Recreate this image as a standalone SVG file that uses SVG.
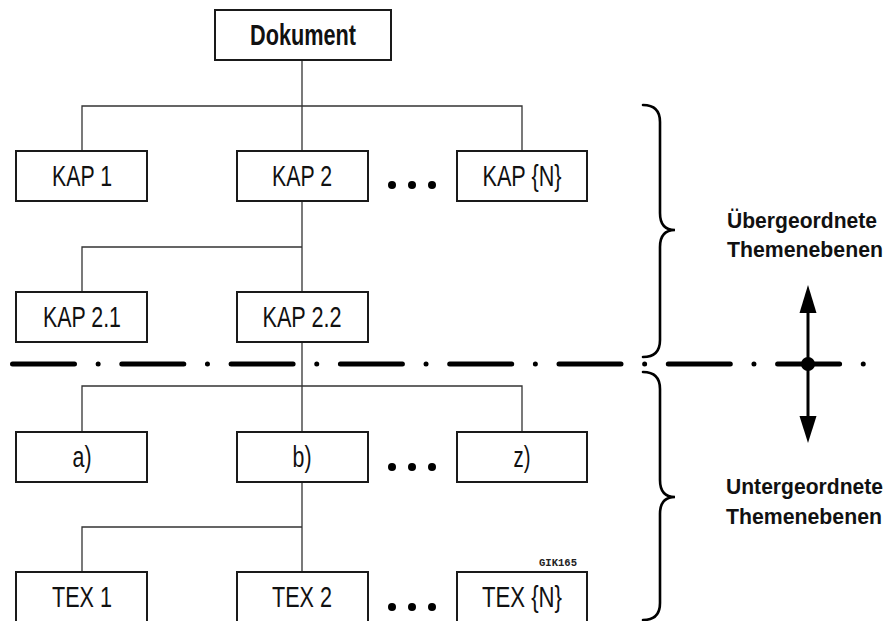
<svg xmlns="http://www.w3.org/2000/svg" width="893" height="621" viewBox="0 0 893 621">
<style>
.box{fill:#fff;stroke:#1a1a1a;stroke-width:2}
.t{font-family:"Liberation Sans Narrow","Liberation Sans",Arial,sans-serif;font-size:29px;fill:#111;text-anchor:middle}
.b{font-weight:bold}
.lab{font-family:"Liberation Sans",Arial,sans-serif;font-size:21.5px;font-weight:bold;fill:#111}
.con{fill:none;stroke:#333;stroke-width:1.3}
.dot{fill:#000}
.brace{fill:none;stroke:#000;stroke-width:2.6;stroke-linecap:round}
</style>
<rect width="893" height="621" fill="#fff"/>
<g id="connectors">
<path class="con" d="M302,60V151M82,151V106H522V151M302,201V292M82,292V247H302M302,342V432M82,432V386H522V432M302,482V572M82,572V527H302"/>
</g>
<g id="dokument"><rect class="box" x="215" y="10" width="176" height="50"/><text class="t b" x="303" y="44.5" font-size="27" textLength="106" lengthAdjust="spacingAndGlyphs">Dokument</text></g>
<g id="kap1"><rect class="box" x="16" y="151" width="131" height="50"/><text class="t" x="82" y="186" textLength="60" lengthAdjust="spacingAndGlyphs">KAP 1</text></g>
<g id="kap2"><rect class="box" x="237" y="151" width="131" height="50"/><text class="t" x="302" y="186" textLength="60" lengthAdjust="spacingAndGlyphs">KAP 2</text></g>
<g id="kapN"><rect class="box" x="457" y="151" width="130" height="50"/><text class="t" x="522" y="186" textLength="79" lengthAdjust="spacingAndGlyphs">KAP {N}</text></g>
<g id="kap21"><rect class="box" x="16" y="292" width="131" height="50"/><text class="t" x="82" y="327" textLength="78" lengthAdjust="spacingAndGlyphs">KAP 2.1</text></g>
<g id="kap22"><rect class="box" x="237" y="292" width="131" height="50"/><text class="t" x="302" y="327" textLength="79" lengthAdjust="spacingAndGlyphs">KAP 2.2</text></g>
<g id="a"><rect class="box" x="16" y="432" width="131" height="50"/><text class="t" x="82" y="467" textLength="19" lengthAdjust="spacingAndGlyphs">a)</text></g>
<g id="b"><rect class="box" x="237" y="432" width="131" height="50"/><text class="t" x="302" y="467" textLength="19" lengthAdjust="spacingAndGlyphs">b)</text></g>
<g id="z"><rect class="box" x="457" y="432" width="130" height="50"/><text class="t" x="522" y="467" textLength="17" lengthAdjust="spacingAndGlyphs">z)</text></g>
<g id="tex1"><rect class="box" x="16" y="572" width="131" height="50"/><text class="t" x="82" y="607" textLength="60" lengthAdjust="spacingAndGlyphs">TEX 1</text></g>
<g id="tex2"><rect class="box" x="237" y="572" width="131" height="50"/><text class="t" x="302" y="607" textLength="60" lengthAdjust="spacingAndGlyphs">TEX 2</text></g>
<g id="texN"><rect class="box" x="457" y="572" width="130" height="50"/><text class="t" x="522" y="607" textLength="80" lengthAdjust="spacingAndGlyphs">TEX {N}</text></g>
<g id="ellipses">
<circle class="dot" cx="392" cy="185" r="4"/><circle class="dot" cx="412" cy="185" r="4"/><circle class="dot" cx="432" cy="185" r="4"/>
<circle class="dot" cx="392" cy="467" r="4"/><circle class="dot" cx="412" cy="467" r="4"/><circle class="dot" cx="432" cy="467" r="4"/>
<circle class="dot" cx="392" cy="607" r="4"/><circle class="dot" cx="412" cy="607" r="4"/><circle class="dot" cx="432" cy="607" r="4"/>
</g>
<text x="539" y="566" font-family="'Liberation Mono',monospace" font-size="10.5" font-weight="bold" fill="#222" textLength="38" lengthAdjust="spacingAndGlyphs">GIK165</text>
<g id="divider">
<line x1="12.5" y1="364" x2="866" y2="364" stroke="#000" stroke-width="5" stroke-linecap="round" stroke-dasharray="62 23.65 0 23.65"/>
</g>
<g id="braces">
<path class="brace" d="M643,105Q660,105 660,122L660,213Q660,230 675,230Q660,230 660,247L660,340Q660,357 643,357"/>
<path class="brace" d="M643,372Q660,372 660,389L660,480Q660,497 675,497Q660,497 660,514L660,603Q660,620 643,620"/>
</g>
<g id="levelArrow">
<line x1="808" y1="310" x2="808" y2="419" stroke="#000" stroke-width="3"/>
<polygon points="808,285 799.5,313 816.5,313" fill="#000"/>
<polygon points="808,443 799.5,416 816.5,416" fill="#000"/>
<circle cx="808" cy="364" r="7" fill="#000"/>
</g>
<g id="labels">
<text class="lab" x="727" y="228" textLength="150" lengthAdjust="spacingAndGlyphs">Übergeordnete</text>
<text class="lab" x="727" y="257" textLength="156" lengthAdjust="spacingAndGlyphs">Themenebenen</text>
<text class="lab" x="726" y="494" textLength="157" lengthAdjust="spacingAndGlyphs">Untergeordnete</text>
<text class="lab" x="726" y="524" textLength="156" lengthAdjust="spacingAndGlyphs">Themenebenen</text>
</g>
</svg>
